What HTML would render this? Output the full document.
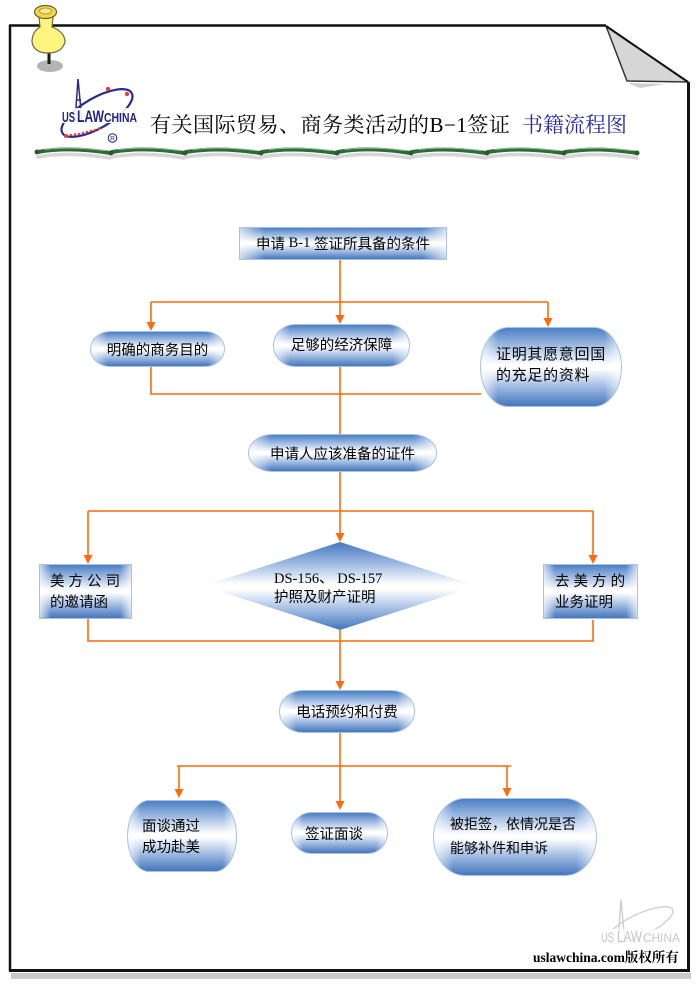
<!DOCTYPE html>
<html><head><meta charset="utf-8">
<style>
html,body{margin:0;padding:0;background:#fff;}
#root{position:relative;width:700px;height:990px;overflow:hidden;background:#fff;font-family:"Liberation Sans","Noto Sans CJK SC",sans-serif;color:#000;}
svg.bg{position:absolute;left:0;top:0;}
.g{position:absolute;box-sizing:border-box;border:1px solid #a9c1e4;
background:
linear-gradient(to right,rgba(255,255,255,.7) 0%,rgba(255,255,255,0) 12%,rgba(255,255,255,0) 88%,rgba(255,255,255,.7) 100%),
linear-gradient(to bottom,#4b7fc4 0%,#9cb9e1 22%,#ffffff 47%,#ffffff 52%,#a1bce2 75%,#4577bd 100%);
font-size:14.5px;}
.c{display:flex;align-items:center;justify-content:center;white-space:nowrap;}
.l{white-space:nowrap;line-height:21px;}
.ser{font-family:"Liberation Serif","Noto Sans CJK SC",serif;}
.t{position:absolute;white-space:nowrap;}
</style></head>
<body><div id="root">
<svg class="bg" width="700" height="990" viewBox="0 0 700 990" xmlns="http://www.w3.org/2000/svg">
<defs>
<linearGradient id="dg" x1="0" y1="0" x2="0" y2="1">
<stop offset="0" stop-color="#4679bf"/>
<stop offset="0.25" stop-color="#9fbbe2"/>
<stop offset="0.48" stop-color="#ffffff"/>
<stop offset="0.54" stop-color="#ffffff"/>
<stop offset="0.77" stop-color="#a1bce2"/>
<stop offset="1" stop-color="#4275bc"/>
</linearGradient>
</defs>
<!-- page shadow -->
<rect x="11" y="973" width="680" height="6" fill="#c9c9c9"/>
<!-- frame -->
<path d="M9 25.5 H606" stroke="#111" stroke-width="2.5" fill="none"/>
<path d="M10 25 V971" stroke="#111" stroke-width="2.5" fill="none"/>
<path d="M9 970.5 H690" stroke="#111" stroke-width="3" fill="none"/>
<path d="M688.5 82 V972" stroke="#111" stroke-width="3" fill="none"/>
<path d="M628 83 L665 84 L640 88 Z" fill="#cfcfcf"/>
<polygon points="606,26 627,81 688,82" fill="#d6d6d6" stroke="#333" stroke-width="1.5"/>
<path d="M606 26 L688 82" stroke="#111" stroke-width="2" fill="none"/>

<!-- pin -->
<ellipse cx="50" cy="66" rx="13" ry="6" fill="#b4b4b4"/>
<path d="M49 50 V64" stroke="#1a1a1a" stroke-width="3"/>
<path d="M39 17 L53 17 L52 27 Q65 32 65 42 Q62 53 48 53 Q34 53 32 42 Q32 32 40 27 Z" fill="#fbf580" stroke="#6a6640" stroke-width="1.2"/>
<ellipse cx="45.5" cy="12" rx="11" ry="6.5" fill="#efd84a" stroke="#6a6030" stroke-width="1.2"/>
<ellipse cx="45.5" cy="11" rx="6" ry="3" fill="#f8e88a" stroke="#a08a30" stroke-width="0.8"/>

<!-- logo -->
<ellipse cx="97" cy="113" rx="40" ry="15" transform="rotate(-30 97 113)" fill="none" stroke="#2a2a8c" stroke-width="2.2"/>
<g fill="#e0403a">
<circle cx="66" cy="136" r="2"/><circle cx="71" cy="135" r="1.3"/><circle cx="75" cy="134.5" r="1.3"/><circle cx="79" cy="134" r="1.3"/><circle cx="83" cy="133" r="1.3"/><circle cx="87" cy="132" r="1.3"/><circle cx="91" cy="131" r="1.3"/><circle cx="95" cy="130" r="1.3"/><circle cx="99" cy="128.5" r="1.3"/>
<circle cx="108" cy="89" r="2.2"/><circle cx="127" cy="94" r="2.2"/>
</g>
<path d="M78 79 L75 121 M78 79 L82 121 M76 100 H81" stroke="#2a2a8c" stroke-width="1.5" fill="none"/>
<rect x="60" y="108" width="80" height="15" fill="#fff" opacity="0.9"/>
<text x="62" y="122" font-family="Liberation Sans, sans-serif" font-weight="bold" font-size="15" fill="#232382" textLength="13" lengthAdjust="spacingAndGlyphs">US</text>
<text x="77" y="122" font-family="Liberation Sans, sans-serif" font-weight="bold" font-size="17" fill="#232382" textLength="27" lengthAdjust="spacingAndGlyphs">LAW</text>
<text x="104" y="122" font-family="Liberation Sans, sans-serif" font-weight="bold" font-size="13" fill="#232382" textLength="33" lengthAdjust="spacingAndGlyphs">CHINA</text>
<circle cx="112.5" cy="138" r="4.3" fill="none" stroke="#232382" stroke-width="1"/>
<text x="112.5" y="140.5" text-anchor="middle" font-family="Liberation Sans, sans-serif" font-size="6.5" fill="#232382">R</text>

<!-- green divider -->
<g fill="none" stroke-linecap="round">
<g stroke="#d6d6d6" stroke-width="3.5">
<path d="M38 157 C60 153 85 154 110 158 M112 157 C135 153 160 154 184 158 M186 157 C210 153 235 154 260 158 M262 157 C285 153 310 154 336 158 M338 157 C360 153 385 154 410 158 M412 157 C435 153 460 154 486 158 M488 157 C510 153 535 154 563 158 M565 157 C590 153 610 154 637 158"/>
</g>
<g stroke="#2f6b3a" stroke-width="4">
<path d="M38 152 C60 148 85 149 110 153 M112 152 C135 148 160 149 184 153 M186 152 C210 148 235 149 260 153 M262 152 C285 148 310 149 336 153 M338 152 C360 148 385 149 410 153 M412 152 C435 148 460 149 486 153 M488 152 C510 148 535 149 563 153 M565 152 C590 148 610 149 637 153"/>
</g>
<g stroke="#8fbf8f" stroke-width="1">
<path d="M45 149.5 C65 147 85 148 105 150.5 M119 149.5 C140 147 160 148 180 150.5 M193 149.5 C215 147 235 148 256 150.5 M269 149.5 C290 147 310 148 331 150.5 M345 149.5 C365 147 385 148 405 150.5 M419 149.5 C440 147 460 148 481 150.5 M495 149.5 C515 147 535 148 558 150.5 M572 149.5 C593 147 612 148 632 150.5"/>
</g>
</g>
<g fill="#2a5a32">
<circle cx="37" cy="152" r="2.5"/><circle cx="111" cy="153" r="2.5"/><circle cx="185" cy="153" r="2.5"/><circle cx="261" cy="153" r="2.5"/><circle cx="337" cy="153" r="2.5"/><circle cx="411" cy="153" r="2.5"/><circle cx="487" cy="153" r="2.5"/><circle cx="564" cy="153" r="2.5"/><circle cx="637" cy="153" r="2.5"/>
</g>

<!-- connectors -->
<g stroke="#ff6a0a" stroke-width="1.6" fill="none">
<path d="M340 260 V302 M151 302 H548 M151 302 V323 M340 302 V316 M548 302 V319"/>
<path d="M151 367 V394 H481 M340 367 V434"/>
<path d="M340 472 V511 M88 511 H593 M88 511 V556 M340 511 V534 M593 511 V556"/>
<path d="M88 619 V641 H593 V620 M340 630 V682"/>
<path d="M340 733 V766 M177 766 H511 M179 766 V790 M340 766 V802 M507 766 V789"/>
</g>
<g fill="#ff6a0a">
<path d="M146.5 322 H155.5 L151 331 Z"/>
<path d="M335.5 315 H344.5 L340 324 Z"/>
<path d="M543.5 318 H552.5 L548 327 Z"/>
<path d="M83.5 555 H92.5 L88 564 Z"/>
<path d="M335.5 533 H344.5 L340 542 Z"/>
<path d="M588.5 555 H597.5 L593 564 Z"/>
<path d="M335.5 681 H344.5 L340 690 Z"/>
<path d="M174.5 789 H183.5 L179 798 Z"/>
<path d="M335.5 801 H344.5 L340 810 Z"/>
<path d="M502.5 788 H511.5 L507 797 Z"/>
</g>

<!-- diamond -->
<polygon points="203,586 340,542 477,586 340,630" fill="url(#dg)"/>
<text x="274" y="583" font-family="Liberation Serif, serif" font-size="14.5" fill="#000">DS-156<tspan font-family="Noto Sans CJK SC, sans-serif">、</tspan> DS-157</text>
<text x="274" y="602" font-family="Liberation Sans, Noto Sans CJK SC, sans-serif" font-size="14.5" fill="#000">护照及财产证明</text>

<!-- watermark -->
<g opacity="0.6">
<ellipse cx="640" cy="925" rx="36" ry="11" transform="rotate(-25 640 925)" fill="none" stroke="#b5b5b5" stroke-width="1.5"/>
<path d="M621 900 L618 942 M621 900 L625 942" stroke="#a8a8a8" stroke-width="1.3"/>
<rect x="598" y="929" width="84" height="15" fill="#fff" opacity="0.8"/>
<text x="601" y="942" font-family="Liberation Sans, sans-serif" font-size="14" fill="#a0a0a0" textLength="13" lengthAdjust="spacingAndGlyphs">US</text>
<text x="617" y="942" font-family="Liberation Sans, sans-serif" font-size="16" fill="#a0a0a0" textLength="25" lengthAdjust="spacingAndGlyphs">LAW</text>
<text x="643" y="942" font-family="Liberation Sans, sans-serif" font-size="12" fill="#a0a0a0" textLength="37" lengthAdjust="spacingAndGlyphs">CHINA</text>
</g>
</svg>

<!-- title -->
<div class="t" style="left:150px;top:112px;font-family:'Liberation Serif','Noto Serif CJK SC',serif;font-size:21px;letter-spacing:0.5px;line-height:26px;">有关国际贸易、商务类活动的B−1签证</div>
<div class="t" style="left:522px;top:112px;font-family:'Liberation Serif','Noto Serif CJK SC',serif;font-size:21px;line-height:26px;color:#2a2aa8;">书籍流程图</div>

<!-- boxes -->
<div class="g c" style="left:239px;top:227px;width:208px;height:33px;">申请<span class="ser">&nbsp;B-1&nbsp;</span>签证所具备的条件</div>

<div class="g c" style="left:90px;top:331px;width:135px;height:36px;border-radius:20px/18px;">明确的商务目的</div>
<div class="g c" style="left:273px;top:324px;width:137px;height:43px;border-radius:22px/21px;padding-bottom:3px;">足够的经济保障</div>
<div class="g" style="left:480px;top:327px;width:142px;height:80px;border-radius:28px/40px;font-size:15px;letter-spacing:0.7px;padding:16px 0 0 15px;"><div class="l">证明其愿意回国</div><div class="l">的充足的资料</div></div>

<div class="g c" style="left:248px;top:434px;width:189px;height:38px;border-radius:24px/19px;">申请人应该准备的证件</div>

<div class="g" style="left:39px;top:564px;width:93px;height:55px;padding:7px 0 0 10px;"><div class="l">美 方 公 司</div><div class="l">的邀请函</div></div>
<div class="g" style="left:543px;top:564px;width:95px;height:55px;padding:7px 0 0 11px;"><div class="l">去 美 方 的</div><div class="l">业务证明</div></div>

<div class="g c" style="left:279px;top:690px;width:136px;height:43px;border-radius:24px/21px;">电话预约和付费</div>

<div class="g" style="left:127px;top:800px;width:110px;height:72px;border-radius:22px/36px;padding:16px 0 0 14px;"><div class="l">面谈通过</div><div class="l">成功赴美</div></div>
<div class="g c" style="left:291px;top:812px;width:97px;height:42px;border-radius:20px/21px;justify-content:flex-start;padding-left:13px;">签证面谈</div>
<div class="g" style="left:433px;top:798px;width:164px;height:78px;border-radius:32px/39px;padding:13px 0 0 16px;font-size:14px;"><div class="l" style="line-height:24px;">被拒签，依情况是否</div><div class="l" style="line-height:24px;">能够补件和申诉</div></div>

<!-- footer -->
<div class="t" style="left:533px;top:949px;font-family:'Liberation Serif','Noto Serif CJK SC',serif;font-weight:bold;font-size:13.5px;line-height:18px;">uslawchina.com版权所有</div>
</div></body></html>
